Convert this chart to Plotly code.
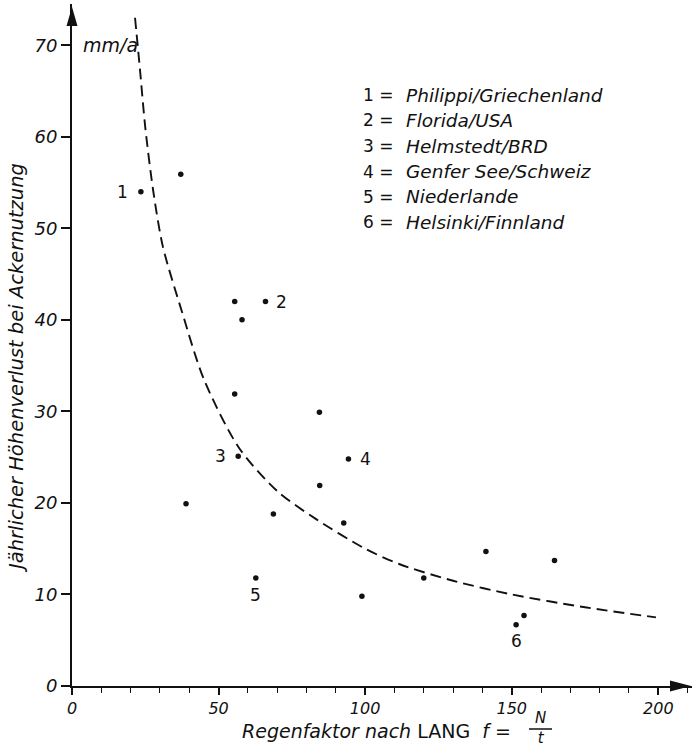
import plotly.graph_objects as go

# ---- data ----
pts_x = [23.5, 37.1, 55.5, 66.0, 58.0, 55.5, 84.4, 56.7, 94.3, 84.5, 38.9, 68.7, 92.7, 62.7, 98.9, 120.0, 141.2, 164.6, 154.2, 151.5]
pts_y = [54.0, 55.9, 42.0, 42.0, 40.0, 31.9, 29.9, 25.1, 24.8, 21.9, 19.9, 18.8, 17.8, 11.8, 9.8, 11.8, 14.7, 13.7, 7.7, 6.7]

# numbered sites: label, index into pts, pixel offset (dx, dy)
site_labels = ["1", "2", "3", "4", "5", "6"]
site_index = [0, 3, 7, 8, 13, 19]
site_offset = [(-18, 0), (16, 0), (-18, 0), (17, 0), (0, 17), (0, 16)]

legend_lines = ["Philippi/Griechenland", "Florida/USA", "Helmstedt/BRD",
                "Genfer See/Schweiz", "Niederlande", "Helsinki/Finnland"]

curve_x = [21.5, 23.2, 25, 27.7, 31, 37.4, 45, 57, 70, 83.4, 100, 111.8, 130, 150, 175, 199.2]
curve_y = [73.0, 67.3, 61.0, 54.1, 48.0, 41.0, 33.5, 26.0, 21.3, 18.2, 15.0, 13.3, 11.5, 10.0, 8.6, 7.5]

x_ticks = [0, 50, 100, 150, 200]
y_ticks = [0, 10, 20, 30, 40, 50, 60, 70]

FONT = "DejaVu Sans"
BLACK = "#111111"

# plot-area geometry in pixels
L, R, T, B = 72, 1, 4, 60
W, H = 693, 746
PW, PH = W - L - R, H - T - B


def px(xp):
    return (xp - L) / PW


def py(yp):
    return 1 - (yp - T) / PH


fig = go.Figure()

fig.add_trace(go.Scatter(
    x=curve_x, y=curve_y, mode="lines",
    line=dict(color=BLACK, width=1.9, dash="11px,6px", shape="spline", smoothing=0.8),
    hoverinfo="skip", showlegend=False))

fig.add_trace(go.Scatter(
    x=pts_x, y=pts_y, mode="markers",
    marker=dict(color=BLACK, size=5.5),
    showlegend=False))

for lab, idx, (dx, dy) in zip(site_labels, site_index, site_offset):
    fig.add_annotation(x=pts_x[idx], y=pts_y[idx], text=lab, showarrow=False,
                       xshift=dx, yshift=-dy,
                       font=dict(family=FONT, size=17, color=BLACK))

# legend text block
for i, name in enumerate(legend_lines):
    yp = 95 + i * 25.5
    fig.add_annotation(xref="paper", yref="paper", x=px(361), y=py(yp),
                       text=f"{i+1} =", showarrow=False, xanchor="left", yanchor="middle",
                       font=dict(family=FONT, size=17, color=BLACK))
    fig.add_annotation(xref="paper", yref="paper", x=px(404), y=py(yp),
                       text=name, showarrow=False, xanchor="left", yanchor="middle",
                       font=dict(family=FONT, size=18.5, color=BLACK, style="italic"))

# unit label
fig.add_annotation(x=0, y=70, text="mm/a", showarrow=False, xanchor="left", yanchor="middle",
                   xshift=9, font=dict(family=FONT, size=19, color=BLACK, style="italic"))

# y axis title
fig.add_annotation(xref="paper", yref="paper", x=px(16), y=py(368),
                   text="Jährlicher Höhenverlust bei Ackernutzung", textangle=-90,
                   showarrow=False, xanchor="center", yanchor="middle",
                   font=dict(family=FONT, size=19.5, color=BLACK, style="italic"))

# x axis title with fraction
fig.add_annotation(xref="paper", yref="paper", x=px(240), y=py(731),
                   text="<i>Regenfaktor nach</i> LANG  <i>f</i> =", showarrow=False,
                   xanchor="left", yanchor="middle",
                   font=dict(family=FONT, size=19, color=BLACK))
fig.add_annotation(xref="paper", yref="paper", x=px(540), y=py(728),
                   text="<i>N</i><br><i>t</i>", showarrow=False, align="center",
                   xanchor="center", yanchor="middle", borderpad=0,
                   font=dict(family=FONT, size=15, color=BLACK))
fig.add_shape(type="line", xref="paper", yref="paper",
              x0=px(529), x1=px(552), y0=py(729), y1=py(729),
              line=dict(color=BLACK, width=1.5))

# arrowheads on axes (pixel-sized, anchored at axis ends)
fig.add_shape(type="path", xref="paper", yref="paper", xsizemode="pixel", ysizemode="pixel",
              xanchor=0, yanchor=1,
              path="M -5.5,-22 L 0,-3 L 5.5,-22 Z", fillcolor=BLACK, line=dict(width=0))
fig.add_shape(type="path", xref="paper", yref="paper", xsizemode="pixel", ysizemode="pixel",
              xanchor=1, yanchor=0,
              path="M -22,5.5 L -1,0 L -22,-5.5 Z", fillcolor=BLACK, line=dict(width=0))

fig.update_xaxes(range=[0, 211.5], showgrid=False, zeroline=False, automargin=False,
                 showline=True, linecolor=BLACK, linewidth=2,
                 tickmode="array", tickvals=x_ticks, ticktext=[str(v) for v in x_ticks],
                 ticks="outside", ticklen=7, tickwidth=1.5, tickcolor=BLACK,
                 minor=dict(dtick=10, tick0=0, ticks="outside", ticklen=5, tickwidth=1, tickcolor=BLACK),
                 tickfont=dict(family=FONT, size=16, color=BLACK, style="italic"))
fig.update_yaxes(range=[0, 74.5], showgrid=False, zeroline=False, automargin=False,
                 showline=True, linecolor=BLACK, linewidth=2,
                 tickmode="array", tickvals=y_ticks, ticktext=[str(v) for v in y_ticks],
                 ticks="outside", ticklen=9, tickwidth=1.5, tickcolor=BLACK,
                 tickfont=dict(family=FONT, size=18, color=BLACK, style="italic"))

fig.update_layout(width=W, height=H,
                  margin=dict(l=L, r=R, t=T, b=B),
                  paper_bgcolor="white", plot_bgcolor="white",
                  showlegend=False)

fig.write_html("out.html", config={"displayModeBar": False},
               post_script="document.body.style.margin='0';document.body.style.overflow='hidden';")
